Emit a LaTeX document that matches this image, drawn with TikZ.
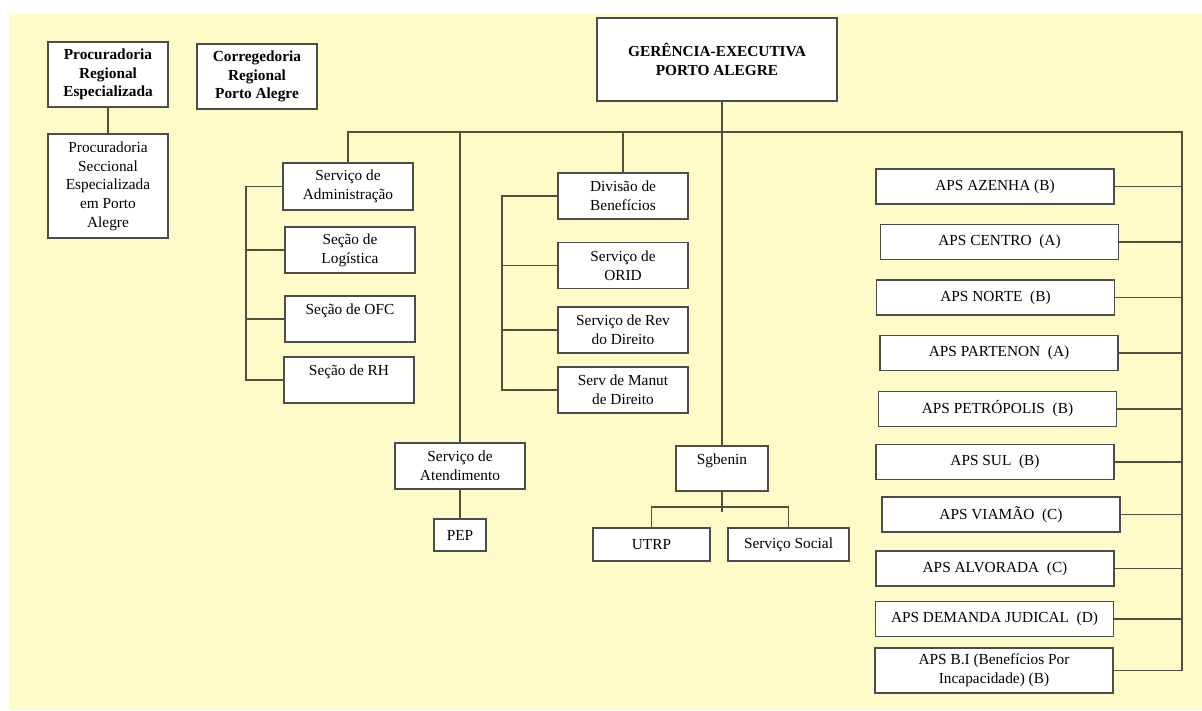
\documentclass[tikz,border=0pt]{standalone}
\usepackage{fontspec}
\setmainfont{Liberation Serif}
\definecolor{fundo}{RGB}{255,251,200}
\definecolor{linha}{RGB}{80,80,60}
\begin{document}
\begin{tikzpicture}[x=0.75pt,y=-0.75pt,
	caixa/.style={draw=black!70,line width=1.1pt,fill=white,inner sep=0pt,align=center,font=\fontsize{11.5}{14}\selectfont},
	titulo/.style={caixa,font=\fontsize{11.5}{14}\selectfont\bfseries},
	setor/.style={caixa,minimum width=97.5pt,minimum height=34.5pt},
	aps/.style={caixa,minimum width=178.5pt,minimum height=26.25pt},
	ligacao/.style={draw=linha,line width=1.2pt}]
		\useasboundingbox (0,0) rectangle (1202,710);
		\fill[fundo] (9,14) rectangle (1202,710);
		\node[titulo,minimum width=90pt,minimum height=48.75pt] (pre) at (108,74.5) {Procuradoria\\Regional\\Especializada};
		\node[titulo,minimum width=90pt,minimum height=48.75pt] (cor) at (257,76.5) {Corregedoria\\Regional\\Porto Alegre};
		\node[caixa,minimum width=90pt,minimum height=78pt] (pse) at (108,186) {Procuradoria\\Seccional\\Especializada\\em Porto\\Alegre};
		\node[titulo,minimum width=180pt,minimum height=62.25pt] (ge) at (717,59.5) {GERÊNCIA-EXECUTIVA\\PORTO ALEGRE};
		\node[setor,minimum height=35.25pt] (adm) at (348,186.5) {Serviço de\\Administração};
		\node[setor] (log) at (350,250) {Seção de\\Logística};
		\node[setor] (ofc) at (350,319) {Seção de OFC\\\mbox{}};
		\node[setor] (rh) at (349,380) {Seção de RH\\\mbox{}};
		\node[setor] (div) at (623,196) {Divisão de\\Benefícios};
		\node[setor] (orid) at (623,265.5) {Serviço de\\ORID};
		\node[setor] (rev) at (623,330) {Serviço de Rev\\do Direito};
		\node[setor] (man) at (623,390) {Serv de Manut\\de Direito};
		\node[setor] (ate) at (460,466) {Serviço de\\Atendimento};
		\node[caixa,minimum width=39pt,minimum height=24pt] (pep) at (460,535) {PEP};
		\node[caixa,minimum width=69pt,minimum height=33.75pt] (sg) at (722,468.5) {Sgbenin\\\mbox{}};
		\node[caixa,minimum width=87.75pt,minimum height=24.75pt] (utrp) at (651.5,544.5) {UTRP};
		\node[caixa,minimum width=90.75pt,minimum height=24.75pt] (soc) at (788.5,544.5) {Serviço Social};
		\node[aps] (azenha) at (995,186.5) {APS AZENHA (B)};
		\node[aps] (centro) at (999.5,242) {APS CENTRO\ \ (A)};
		\node[aps] (norte) at (995.5,297.5) {APS NORTE\ \ (B)};
		\node[aps] (partenon) at (999,353) {APS PARTENON\ \ (A)};
		\node[aps] (petropolis) at (997.5,409) {APS PETRÓPOLIS\ \ (B)};
		\node[aps] (sul) at (995,462) {APS SUL\ \ (B)};
		\node[aps] (viamao) at (1001,514.5) {APS VIAMÃO\ \ (C)};
		\node[aps] (alvorada) at (995,568.5) {APS ALVORADA\ \ (C)};
		\node[aps] (demanda) at (994.5,619) {APS DEMANDA JUDICAL\ \ (D)};
		\node[aps,minimum height=33.75pt] (bi) at (994,670.5) {APS B.I (Benefícios Por\\Incapacidade) (B)};
		\coordinate (busR) at (1182,132);
		\coordinate (brA) at (246,0);
		\coordinate (brB) at (502,0);
		\coordinate (sgb) at (722,507);
		\draw[ligacao] (pre.south) -- (pse.north);
		\draw[ligacao] (adm.north) |- (busR) -- (busR |- bi.east) -- (bi.east);
		\draw[ligacao] (ate.north) -- (ate.north |- busR);
		\draw[ligacao] (div.north) -- (div.north |- busR);
		\draw[ligacao] (sg.north |- ge.south) -- (sg.north);
		\draw[ligacao] (adm.west) -| (brA |- rh.west) -- (rh.west);
		\draw[ligacao] (log.west) -- (log.west -| brA);
		\draw[ligacao] (ofc.west) -- (ofc.west -| brA);
		\draw[ligacao] (div.west) -| (brB |- man.west) -- (man.west);
		\draw[ligacao] (orid.west) -- (orid.west -| brB);
		\draw[ligacao] (rev.west) -- (rev.west -| brB);
		\draw[ligacao] (ate.south) -- (pep.north);
		\draw[ligacao] (sg.south) -- ++(0,20);
		\draw[ligacao] (utrp.north) |- (sgb) -| (soc.north);
		\draw[ligacao] (azenha.east) -- (azenha.east -| busR);
		\draw[ligacao] (centro.east) -- (centro.east -| busR);
		\draw[ligacao] (norte.east) -- (norte.east -| busR);
		\draw[ligacao] (partenon.east) -- (partenon.east -| busR);
		\draw[ligacao] (petropolis.east) -- (petropolis.east -| busR);
		\draw[ligacao] (sul.east) -- (sul.east -| busR);
		\draw[ligacao] (viamao.east) -- (viamao.east -| busR);
		\draw[ligacao] (alvorada.east) -- (alvorada.east -| busR);
		\draw[ligacao] (demanda.east) -- (demanda.east -| busR);
	\end{tikzpicture}
\end{document}
